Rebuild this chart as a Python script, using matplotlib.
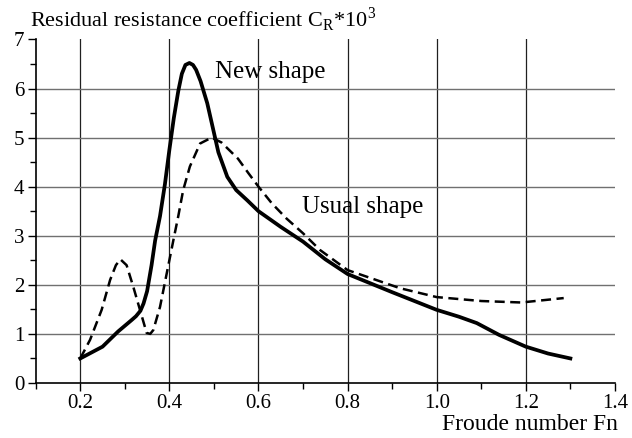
import matplotlib
matplotlib.use("Agg")
import matplotlib.pyplot as plt
from matplotlib.ticker import MultipleLocator

plt.rcParams['font.family'] = ['Liberation Serif', 'DejaVu Serif']
plt.rcParams['mathtext.fontset'] = 'custom'
plt.rcParams['mathtext.rm'] = 'Liberation Serif'

# --- data ---
new_fn = [0.2, 0.25, 0.285, 0.315, 0.325, 0.335, 0.342, 0.35, 0.36, 0.368,
          0.379, 0.39, 0.4, 0.41, 0.42, 0.428, 0.436, 0.445, 0.453, 0.46,
          0.47, 0.485, 0.495, 0.51, 0.53, 0.55, 0.575, 0.6, 0.65, 0.7,
          0.75, 0.8, 0.9, 1.0, 1.05, 1.09, 1.14, 1.2, 1.25, 1.3]
new_cr = [0.5, 0.74, 1.05, 1.28, 1.36, 1.47, 1.62, 1.87, 2.4, 2.9,
          3.4, 4.05, 4.75, 5.4, 5.95, 6.3, 6.48, 6.52, 6.48, 6.38,
          6.15, 5.7, 5.3, 4.7, 4.2, 3.93, 3.72, 3.5, 3.18, 2.88,
          2.52, 2.22, 1.85, 1.49, 1.35, 1.22, 0.98, 0.74, 0.6, 0.5]

usual_fn = [0.2, 0.222, 0.248, 0.267, 0.28, 0.29, 0.304, 0.319, 0.334, 0.349,
            0.357, 0.364, 0.379, 0.394, 0.409, 0.42, 0.431, 0.446, 0.469, 0.495,
            0.517, 0.554, 0.577, 0.6, 0.63, 0.663, 0.7, 0.738, 0.8, 0.918,
            1.0, 1.1, 1.19, 1.285]
usual_cr = [0.5, 0.88, 1.49, 2.1, 2.4, 2.52, 2.4, 1.96, 1.49, 1.02,
            1.0, 1.08, 1.55, 2.23, 2.91, 3.4, 3.93, 4.41, 4.88, 5.0,
            4.9, 4.57, 4.28, 4.0, 3.66, 3.35, 3.05, 2.71, 2.3, 1.93,
            1.75, 1.67, 1.64, 1.73]

x_ticks = [0.2, 0.4, 0.6, 0.8, 1.0, 1.2, 1.4]
x_tick_labels = ['0.2', '0.4', '0.6', '0.8', '1.0', '1.2', '1.4']
y_ticks = [0, 1, 2, 3, 4, 5, 6, 7]

fig = plt.figure(figsize=(6.32, 4.38), dpi=100)
ax = fig.add_axes([0.0565, 0.1256, 0.9165, 0.7844])

# grid lines (only inside, not at the borders)
for v in x_ticks[:-1]:
    ax.axvline(v, color='#202020', lw=0.9, zorder=1)
for h in y_ticks[1:-1]:
    ax.axhline(h, color='#707070', lw=1.0, zorder=1)

ax.plot(new_fn, new_cr, color='black', lw=2.7, solid_joinstyle='round', zorder=3)
ax.plot(usual_fn, usual_cr, color='black', lw=1.8, dashes=(4, 2.2), zorder=3)

ax.set_xlim(0.1, 1.4)
ax.set_ylim(0, 7)
ax.set_xticks(x_ticks)
ax.set_xticklabels(x_tick_labels)
ax.set_yticks(y_ticks)
ax.xaxis.set_minor_locator(MultipleLocator(0.1))
ax.yaxis.set_minor_locator(MultipleLocator(0.5))
ax.tick_params(which='major', direction='out', length=6, width=1.0, labelsize=15, pad=2)
ax.tick_params(which='minor', direction='out', length=4, width=1.0)
ax.spines['top'].set_visible(False)
ax.spines['right'].set_visible(False)
ax.spines['left'].set_linewidth(1.2)
ax.spines['bottom'].set_linewidth(1.2)

ax.text(0.503, 6.33, 'New shape', fontsize=18, va='center', ha='left')
ax.text(0.698, 3.58, 'Usual shape', fontsize=18, va='center', ha='left')

fig.text(0.047, 0.955, r'Residual resistance coefficient C$_\mathrm{R}$*10$^\mathrm{3}$',
         fontsize=16, ha='left', va='center')
fig.text(0.978, 0.03, 'Froude number Fn', fontsize=17, ha='right', va='center')

fig.savefig('out.png', dpi=100)
